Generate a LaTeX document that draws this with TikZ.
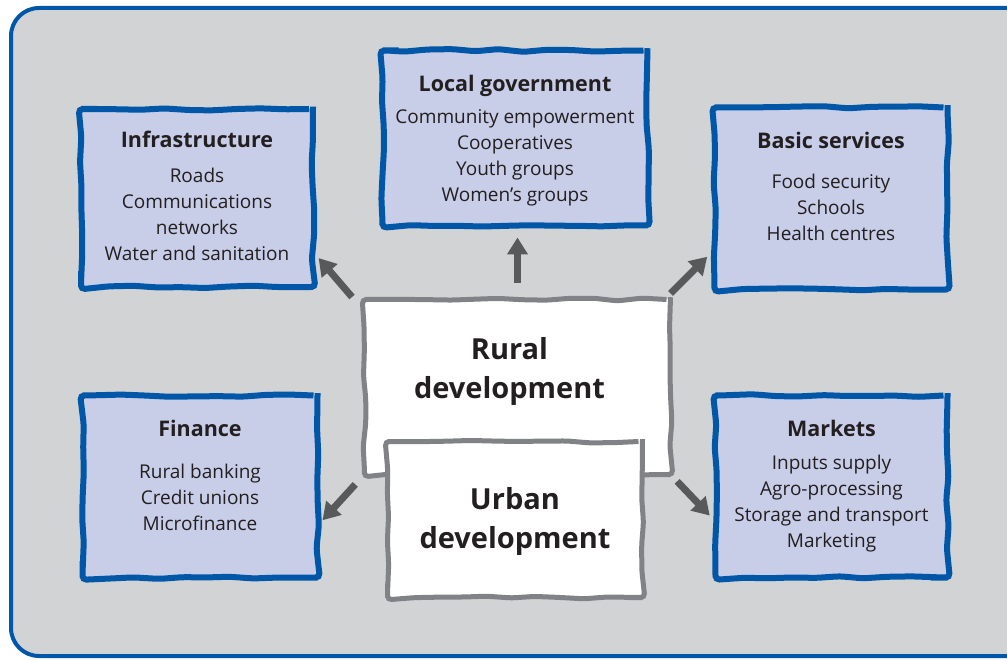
\documentclass[tikz,border=0pt]{standalone}
\usepackage{fontspec}
\setmainfont{Open Sans}
\usetikzlibrary{arrows.meta, positioning, decorations.pathmorphing}

\definecolor{bordblue}{HTML}{0057A8}
\definecolor{boxfill}{HTML}{C8CDE8}
\definecolor{framegray}{HTML}{D1D3D4}
\definecolor{arrowgray}{HTML}{58595B}
\definecolor{centgray}{HTML}{808285}
\definecolor{inkblack}{HTML}{231F20}

\newcommand\titlef{\fontsize{21.5}{26}\selectfont\bfseries}
\newcommand\centf{\fontsize{29}{39}\selectfont\bfseries}

\begin{document}
\begin{tikzpicture}[x=1pt, y=-1pt,
    sketch/.style={decorate, rounded corners=4pt,
        decoration={random steps, segment length=24pt, amplitude=1.4pt}},
    infobox/.style={sketch, draw=bordblue, fill=boxfill, line width=6pt},
    centbox/.style={sketch, draw=centgray, fill=white, line width=5pt},
    infotext/.style={align=center, inner sep=0pt, text=inkblack,
        font=\fontsize{19}{26}\selectfont},
    centtext/.style={align=center, inner sep=0pt, text=inkblack, font=\centf},
    bigarrow/.style={-{Triangle[length=17pt 0 0, width=20pt 0 0]}, line width=7pt,
        draw=arrowgray, fill=arrowgray}]
        \pgfmathsetseed{7}
        \useasboundingbox (0,0) rectangle (1007,660);
        \draw[draw=bordblue, fill=framegray, line width=4pt, rounded corners=28pt]
            (11,8) rectangle (1040,656);

        % outer boxes
        \node[infobox, minimum width=232pt, minimum height=178pt] (I) at (197,198) {};
        \node[infobox, minimum width=265pt, minimum height=175pt] (L) at (515,138) {};
        \node[infobox, minimum width=233pt, minimum height=182pt] (B) at (831,198.5) {};
        \node[infobox, minimum width=235pt, minimum height=182pt] (F) at (200,486.5) {};
        \node[infobox, minimum width=232pt, minimum height=182pt] (M) at (831.5,486.5) {};

        \node[infotext] (It) [below=25pt of I.north]
            {{\titlef Infrastructure}\\[9pt] Roads\\ Communications\\ networks\\ Water and sanitation};
        \node[infotext] (Lt) [below=27pt of L.north]
            {{\titlef Local government}\\[6pt] Community empowerment\\ Cooperatives\\ Youth groups\\ Women's groups};
        \node[infotext] (Bt) [below=27pt of B.north]
            {{\titlef Basic services}\\[14pt] Food security\\ Schools\\ Health centres};
        \node[infotext] (Ft) [below=27pt of F.north]
            {{\titlef Finance}\\[16pt] Rural banking\\ Credit unions\\ Microfinance};
        \node[infotext] (Mt) [below=27pt of M.north]
            {{\titlef Markets}\\[7pt] Inputs supply\\ Agro-processing\\ Storage and transport\\ Marketing};

        % centre
        \node[centbox, minimum width=306pt, minimum height=175pt] (R) at (517.5,387) {};
        \node[centtext] (Rt) [below=40pt of R.north, xshift=-8pt] {Rural\\ development};
        \node[centbox, minimum width=255pt, minimum height=156pt] (U) at (515,519.5) {};
        \node[centtext] (Ut) [below=48pt of U.north] {Urban\\ development};

        % arrows
        \draw[bigarrow, shorten >=4pt] ([xshift=-10pt]R.north west) -- ([yshift=-57pt]I.east);
        \draw[bigarrow, shorten <=14pt, shorten >=9pt] (R.north) -- (R.north |- L.south);
        \draw[bigarrow, shorten <=5pt, shorten >=6pt] ([xshift=-6pt]R.north east) -- ([yshift=-54pt]B.west);
        \draw[bigarrow, shorten <=10pt, shorten >=3pt] (R.south west) -- ([yshift=-36pt]F.east);
        \draw[bigarrow, shorten <=6pt, shorten >=4pt] (R.south east) -- ([yshift=-32pt]M.west);
\end{tikzpicture}
\end{document}
